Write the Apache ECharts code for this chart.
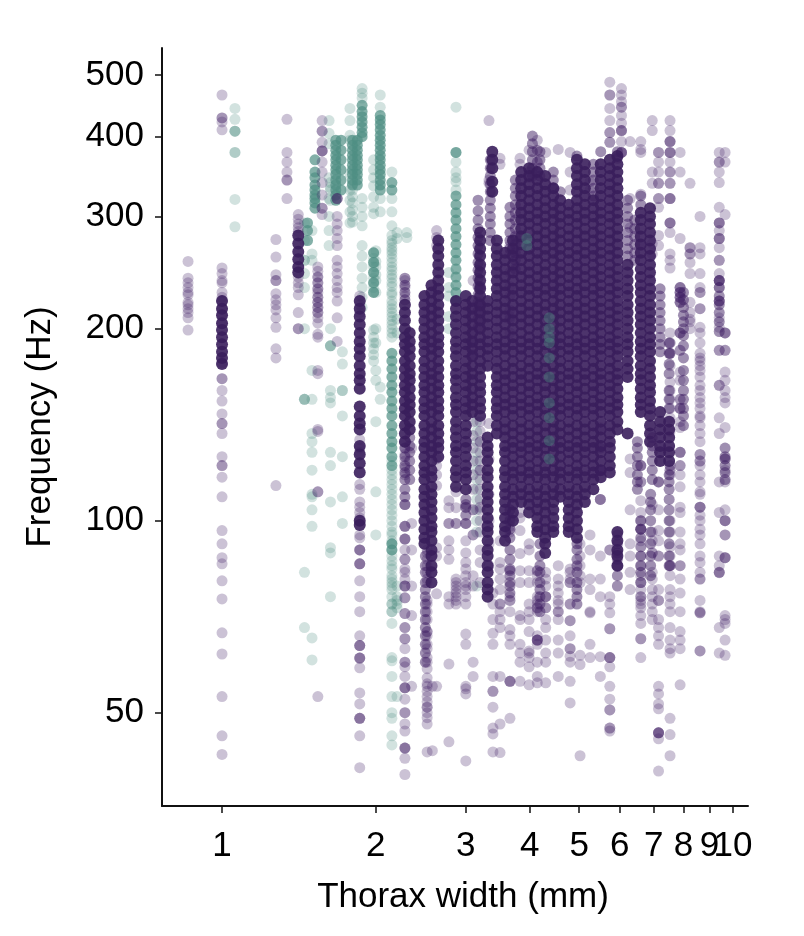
<!DOCTYPE html>
<html>
<head>
<meta charset="utf-8">
<style>
html,body{margin:0;padding:0;background:#fff;}
#chart{width:804px;height:936px;}
</style>
<script src="https://cdn.jsdelivr.net/npm/echarts@6/dist/echarts.min.js"></script>
</head>
<body>
<div id="chart"></div>
<script>
// tick labels
const xTicks = [1,2,3,4,5,6,7,8,9];
const xTickLast = [10]; // on its own axis, it touches the 9 and the overlap check would drop one
const yTicks = [50,100,200,300,400,500];

// each row: [thorax width mm, [frequencies Hz]]
// purple, single faint dots
const purpleLight = [
 [0.858,[255,240,236,232,228,226,220,218,215,212,208,199]],
 [1,[465,428,428,422,410,249,244,238,236,228,224,221,215,210,204,177,167,167,160,154,147,142,142,137,126,122,122,117,109,96.5,92,87.5,85.6,80.5,75.4,66.7,61.8,53,46,43]],
 [1.275,[276,259,243,238,238,227,222,218,214,208,201,186,180,113.5]],
 [1.34,[426,378,365,352,342,342,320]],
 [1.41,[302,297,292,288,284,241,236,232,226,212,200,200]],
 [1.54,[250,246,241,241,236,236,231,231,228,224,224,220,220,216,216,212,212,208,204,196,194,172,170,139,138,111,111,53]],
 [1.57,[424,408,408,392,380,380,380,365,352,339,324,309,309,302]],
 [1.68,[320,320,320,300,292,285,277,270,256,250,244,238,232,228,221,208,191]],
 [1.86,[225,218,212,134,130,128,114,112,107,105,103,101,95,94,90,90,90,85.6,85.6,85.6,80.5,76,72,66,63.7,63.7,63.7,60.9,60.9,60.9,58.8,53.7,51.6,49,49,49,46,41]],
 [2.28,[225,232,238,133,130,127,124,121,118,106,98,98,98,93.6,93.6,93.6,90,87,84,81,79,87,83,79,79,75.7,75.7,71.5,71.5,68,68,65.3,65.3,63,60,60,59,57,54.7,54.7,54.7,52.5,50,50,48,46.8,44,44,44,42.4,40]],
 [2.35,[130,99,90,79,71,55]],
 [2.52,[90,89,87,85,83,81,80,74,72,70,67,67,66,63,61,60,58.6,56.7,55.5,55,54,53,52,51,50,49.1,48,51,43.4,75,64]],
 [2.63,[285,278,270,125,122,118,113.5,90.7,88,76.8,55]],
 [2.58,[55,43.6]],
 [2.78,[107.5,104.8,99,99,93,90,87,76,74,59.6,45]],
 [2.87,[111,104.8,99,99,81,80,79,78,77,76,75,74]],
 [3.0,[106,106,104.8,99,99,99,93,89,86,84,82,80,79,78,76,74,66.4,64,55,54.5,53.5,42]],
 [3.1,[182,182,190,190,198,216,238,143,136,130,124,118,112,104,104,95,95,79,82,60,57]],
 [3.2,[217,217,217,233,233,233,250,143,138,133,128,124,120,116,112,108,104,100,96,133,120,105,90,86,80]],
 [3.33,[424,342,338,142,125,110,100,92,85]],
 [3.39,[77,74,70,66.6,64,57,54,54,51,46.3,43.4,47.3]],
 [3.5,[370,362,93,86,84,81,78,74,70,48,43.3,57,74,72,68]],
 [3.66,[270,262,245,233,225,214,209,207,197,104,101,98,96,83.5,83.5,80,80,76,75,75,67.5,66,64,56,56,56,49,72]],
 [3.83,[370,362,280,103,101,96.5,88.8,83.5,80,71,70,64,62,56,60]],
 [3.99,[381,352,345,92,90,83.5,80,74,70,62.5,61,59,55.3,72,62,67]],
 [4.14,[395,381,381,365,365,352,83.5,83.5,80,76,74,72,66,65,65,65,65,64,60,57,55.7,75,73,73,82]],
 [4.3,[378,83,81,79,76,76,76,73,73,65,62,55.7,60,70,68]],
 [4.55,[382,81,79,77,74,72,72,62,57,85,75,70,65]],
 [4.8,[378,352,330,84,83,81,80,80,74,74,69.7,69.7,63,63,61.3,56,51.8,66,60]],
 [5.02,[42.8,61.5,59.5,92,88,85,82,80]],
 [5.25,[340,330,95,90,81,78,71.7,64,61,72]],
 [5.5,[108,88,81,76,61.2,57,108,108,120,120,120,130,130,140]],
 [5.74,[487,465,465,443,424,406,406,392,392,90,90,76,74,71.7,67.7,67.7,61,61,61,59,55,52.5,50.5,50.5,47.3,47.3,46.8]],
 [6.05,[476,465,454,445,445,432,420,409,409,409,393,378,378,378,378]],
 [6.29,[393,320,288,125,119,104,92,88,83,78]],
 [6.6,[393,382,378,325,270,122,122,122,115,115,107.5,103,100,97,97,97,93,88,85,82,80,78,76,76,75,74,73,71,69,65.3,65.3,61]],
 [6.95,[424,409,352,338,272,262,106,96,93,89,89,83,81,78,76,74,72,70]],
 [7.15,[378,378,365,352,338,338,320,320,310,280,270,115,115,115,104,96.5,93,88,88,78,75,75,70,68,66,64,55,53.5,51.6,50.7,46.5,46.5,46.5,46.5,45.5,40.5]],
 [7.53,[424,409,393,393,393,378,378,378,365,352,352,338,338,320,320,320,293,293,293,283,262,256,249,197,190,190,183,183,183,175,165,160,155,150,145,138,122,122,120,120,118,100,96,91,88,85,85,85,82,78,76,74,72,68,65,63,62,49,46.2,42.8]],
 [7.88,[378,352,277,232,232,232,228,228,228,224,224,224,220,220,220,197,197,197,185,185,171,166,155,155,150,150,150,143,140,128,128,128,122,122,118,113,105,103,96,92,90,85,85,81,77,72,67,65,63,55.3]],
 [8.24,[338,268,268,262,262,254,244,220,212,207,205,200]],
 [8.62,[300,268,262,244,232,228,228,215,215,201,197,183,180,175,172,160,150,146,137,127,127,124,124,111,105,105,105,100,95,88,83,81,81,75,72,71.7,71.7,62.5,62.5,190,178,168,163,156,153,145,141,133,122,118,115,110,102,97,92,86]],
 [9.4,[378,365,365,352,339,310,293,293,293,285,277,277,277,268,256,256,244,238,238,238,232,221,221,221,221,208,201,185,185,163,163,145,137,115,103,88,83,83,82.9,85,68,62]],
 [9.65,[378,365,302,197,197,197,185,185,171,166,160,156,153,140,125,125,125,120,115,104,100,100,100,95,95,87.5,87.5,87.5,71,70,69,65,61.5]]
];

// purple, columns of medium tone
const purpleMid = [
 [2.28,[240,234,228,222,130,126,122,119,116,112,109,106]],
 [2.33,[135,131,128,124,120,116]],
 [2.5,[88,85,83,80,78,76,74,72,70,68,66,64,62,60]],
 [3.0,[108,105,102]],
 [3.17,[318,306,296,287,278,270,262,254,247,240,233,226,220,213,207,201]],
 [3.35,[368,357,347,337,328,318,309,300,292,283,275]],
 [3.66,[310,300,292,283,275,267,104,100,97,94,90,87,84,82,79,77]],
 [3.75,[342,332,323,313,304,296,287,279,271,263,256,248]],
 [4.05,[401,390,379,368,357,347]],
 [4.19,[379,368,357,347,92,88,85,83,80,78,76,74,72]],
 [4.45,[352,342,332]],
 [4.59,[328]],
 [4.95,[373,92,90,87,85,83,80,78,76,74]],
 [5.33,[362,352,342,332,323]],
 [5.51,[379]],
 [5.94,[379,370,95,92,89,87,85,82,79]],
 [6.22,[318,309,300,292,283,275,267,260]],
 [6.42,[296,287,279,271,263,256]],
 [6.5,[133,130,126,122,118,115,112]],
 [6.6,[323,313,100,97,94,91,88,85,83,80]],
 [6.9,[110,107,104,100,96,92,88,85,82]],
 [6.95,[135,131,128,124,120,116]],
 [7.2,[231,225,218,212,206,200,194,189,184]],
 [7.5,[190,183,176,170,160,155,150,118,115,112,108,104,100,96,92,88,85]],
 [8.0,[228,222,216,210,205,200,195,188,180,172,166,160,155,150,146,141]],
 [9.4,[238,232,225,218,212,205,198]],
 [9.65,[130,126,122,119,116]]
];

// purple, packed part of the cloud
const purpleCore = [
 [1,[221,215,210,204,199,194,189,184,180,176]],
 [1.41,[280,272,264,257,250,245]],
 [1.86,[221,215,209,203,197,191,186,181,175,170,166,161,151,146,142,139,131,127,123,119,100,98.5]],
 [2.28,[218,212,206,200,194,189,184,178,173,168,163,159,154,150,146,141,137,133]],
 [2.33,[197,191,186,181,175,170,166,161,156,152,148,143,139]],
 [2.49,[225,218,212,206,200,194,189,184,178,173,168,163,159,154,150,146,141,137,133,130,126,122,119,116,112,109,106,103,100,97,94,92]],
 [2.57,[234,228,221,215,209,203,197,191,186,181,175,170,166,161,156,152,148,143,139,135,131,128,124,120,117,113,110,107,104,101,98,96,93,90,88,85,83,80]],
 [2.65,[275,267,260,252,245,238,231,225,218,212,206,200,194,189,184,178,173,168,163,159,154,150,146,141,137,133,130,126]],
 [2.87,[221,215,209,203,197,191,186,181,175,170,166,161,156,152,148,143,139,135,131,128,124,120,117,113]],
 [3.0,[225,218,212,206,200,194,189,184,178,173,168,163,159,154,150,146,141,137,133,130,126,122,119,116,112]],
 [3.09,[221,215,209,203,197,191,186,181,175,170,166,161,156,152,148]],
 [3.2,[283,275,267,260,252,245,238,231,225,218,212,206,200,194,189,184,178,173,168,163,159,154,150,146]],
 [3.31,[221,215,209,203,197,191,186,181,175,135,131,128,124,120,117,113,110,107,104,101,98,96,93,90,88,85,83,80,78,76]],
 [3.38,[379,368,357,340,328]],
 [3.45,[275,267,260,252,245,238,231,225,218,212,206,200,194,189,184,178,173,168,163,159,154,150,146,141,137]],
 [3.58,[263,256,248,241,234,228,221,215,209,203,197,191,186,181,175,170,166,161,156,152,148,143,139,135,131,128,124,120,117,113,110,107,104,101,98,96,93]],
 [3.71,[275,267,260,252,245,238,231,225,218,212,206,200,194,189,184,178,173,168,163,159,154,150,146,141,137,133,130,126,122,119,116,112,109,106,103,100]],
 [3.85,[352,342,332,323,313,304,296,287,279,271,263,256,248,241,234,228,221,215,209,203,197,191,186,181,175,170,166,161,156,152,148,143,139,135,131,128,124,120,117,113,110,107]],
 [3.99,[357,347,337,328,318,309,300,292,283,275,267,260,252,245,238,231,225,218,212,206,200,194,189,184,178,173,168,163,159,154,150,146,141,137,133,130,126,122,119,116,112,109,106,103]],
 [4.14,[352,342,332,323,313,304,296,287,279,271,263,256,248,241,234,228,221,215,209,203,197,191,186,181,175,170,166,161,156,152,148,143,139,135,131,128,124,120,117,113,110,107,104,101,98,96]],
 [4.29,[347,337,328,318,309,300,292,283,275,267,260,252,245,238,231,225,218,212,206,200,194,189,184,178,173,168,163,159,154,150,146,141,137,133,130,126,122,119,116,112,109,106,103,100,97,94,92,89]],
 [4.45,[332,323,313,304,296,287,279,271,263,256,248,241,234,228,221,215,209,203,197,191,186,181,175,170,166,161,156,152,148,143,139,135,131,128,124,120,117,113,110,107,104,101,98,96]],
 [4.59,[318,309,300,292,283,275,267,260,252,245,238,231,225,218,212,206,200,194,189,184,178,173,168,163,159,154,150,146,141,137,133,130,126,122,119,116,112,109]],
 [4.77,[313,304,296,287,279,271,263,256,248,241,234,228,221,215,209,203,197,191,186,181,175,170,166,161,156,152,148,143,139,135,131,128,124,120,117,113,110,107,104,101,98,96]],
 [4.95,[368,357,347,337,328,318,309,300,292,283,275,267,260,252,245,238,231,225,218,212,206,200,194,189,184,178,173,168,163,159,154,150,146,141,137,133,130,126,122,119,116,112,109,106,103,100,97,94]],
 [5.13,[362,352,342,332,323,313,304,296,287,279,271,263,256,248,241,234,228,221,215,209,203,197,191,186,181,175,170,166,161,156,152,148,143,139,135,131,128,124,120,117,113,110,107]],
 [5.33,[318,309,300,292,283,275,267,260,252,245,238,231,225,218,212,206,200,194,189,184,178,173,168,163,159,154,150,146,141,137,133,130,126,122,119,116,112]],
 [5.51,[362,352,342,332,323,313,304,296,287,279,271,263,256,248,241,234,228,221,215,209,203,197,191,186,181,175,170,166,161,156,152,148,143,139,135,131,128,124,120,117]],
 [5.74,[368,357,347,337,328,318,309,300,292,283,275,267,260,252,245,238,231,225,218,212,206,200,194,189,184,178,173,168,163,159,154,150,146,141,137,133,130,126,122,119]],
 [5.94,[373,362,352,342,332,323,313,304,296,287,279,271,263,256,248,241,234,228,221,215,209,203,197,191,186,181,175,170,166,161,156,152,148,143,139,96,93,90,88,85]],
 [6.22,[252,245,238,231,225,218,212,206,200,194,189,184,178,173,168,137]],
 [6.6,[304,296,287,279,271,263,256,248,241,234,228,221,215,209,203,197,191,186,181,175,170,166,161,156,152,148]],
 [6.88,[309,300,292,283,275,267,260,252,245,238,231,225,218,212,206,200,194,189,184,178,173,168,163,159,154,150,146,141,137,133]],
 [7.2,[148,143,139,135,131,128,124]],
 [7.5,[143,139,135,131,128,124]]
];

// teal, faint dots
const tealLight = [
 [1.06,[443,426,408,408,408,378,378,319,289]],
 [1.45,[293,275,256,256,244,232,200,155,155,155,83,68]],
 [1.5,[285,262,256,128,120,110,109,65.5,60.5,104,98,172,155,137,133]],
 [1.63,[339,330,318,333,200,160,153,156,128,122,107,90.7,89,76,188,188,188]],
 [1.72,[184,176,160,146,126,109,99,160]],
 [1.62,[424,405,390,345,320,300,285,270]],
 [1.78,[443,424,402,395,350,330,318,305,293]],
 [1.8,[338,330,322,315,307,300,294]],
 [1.88,[476,468,460,320,310,300,290,270,260,250,240,232,224,216]],
 [1.98,[368,355,345,335,322,310,303,263,258,254,250,245,240,236,232,228,199,194,190,186,182,178]],
 [2.0,[265,255,250,243,238,228,200,190,172,166,143,111,95]],
 [2.04,[465,445,320,305,162,155]],
 [2.15,[352,320,305,290,280,272,265,258,250,243,236,228,221,215,209,203,197,124,120,116,112,108,104,100,96,93,90,86.5,84,81,79,76,74,72,69,60.3,61,57,53,50,49,46,44.5,74,72,80,78,275,268,262,254,247,240,233,226,218,212,206,200,194,118,114,110,106,102,98,95,92,88,85,82]],
 [2.2,[79,76,73,283,277,207,197,53,75,74]],
 [2.3,[278,283]],
 [2.87,[445,378,365,352,345,340,330]],
 [2.78,[245,232,225,209,200]],
 [3.15,[143,138,133,128,124,120,116,112,108,104,100,96,79]]
];

// teal, packed columns
const tealCore = [
 [1.47,[293,285,275]],
 [1.52,[368,352,345,336,330,324,320,315,309]],
 [1.67,[395,388,381,374,368,361,355,349,342,336,330,324,318]],
 [1.71,[395,381,368,355,342,330]],
 [1.8,[395,388,381,374,368,361,355,349,342,336]],
 [1.84,[395,388,381,374,368,361,355,349,342,336]],
 [1.88,[448,438,430,422,414,406,400]],
 [1.98,[263,254,245,236,228]],
 [2.04,[432,425,418,410,402,395,388,381,374,368,361,355,349,342,336,330]],
 [2.15,[339,330,183,178,173,168,163,159,154,150,146,141,137,133,130,126,122,92,90]],
 [2.87,[378,323,313,304,296,287,279,271,263,256,248,241,234,228,221]]
];

// teal dots showing through the dark part of the cloud
const tealOverlay = [
 [3.95,[277,270]],
 [4.37,[208,200,194,190,180,168,153,145,133.5,125]]
];

function flatten(rows){
    let out = [];
    rows.forEach(row=>{
        row[1].forEach(f=>{ out.push([row[0],f]); });
    });
    return out;
}

function scatter(rows,color,alpha,size){
    return {
        type:'scatter',
        data:flatten(rows),
        symbolSize:size,
        silent:true,
        itemStyle:{color:color,opacity:alpha,borderWidth:0}
    };
}

let chart = echarts.init(document.getElementById('chart'),null,{renderer:'canvas'});
let axisFont = 'Liberation Sans, Arial, sans-serif';
let xLabelStyle = {fontFamily:axisFont,fontSize:35,color:'#000',margin:23,hideOverlap:false};
let option = {
    animation:false,
    backgroundColor:'#fff',
    grid:{left:162,right:56,top:48,bottom:130},
    xAxis:[{
        type:'log',
        min:0.763,
        max:10.7,
        name:'Thorax width (mm)',
        nameLocation:'middle',
        nameGap:74,
        nameTextStyle:{fontFamily:axisFont,fontSize:35,color:'#000',padding:[0,0,0,16]},
        axisLine:{show:true,onZero:false,lineStyle:{color:'#111',width:2}},
        axisTick:{show:true,length:7,lineStyle:{color:'#111',width:1.5},customValues:xTicks},
        minorTick:{show:false},
        splitLine:{show:false},
        axisLabel:Object.assign({customValues:xTicks},xLabelStyle)
    },{
        type:'log',
        position:'bottom',
        min:0.763,
        max:10.7,
        axisLine:{show:false,onZero:false},
        axisTick:{show:true,length:7,lineStyle:{color:'#111',width:1.5},customValues:xTickLast},
        minorTick:{show:false},
        splitLine:{show:false},
        axisLabel:Object.assign({customValues:xTickLast},xLabelStyle)
    }],
    yAxis:{
        type:'log',
        min:35.7,
        max:551,
        name:'Frequency (Hz)',
        nameLocation:'middle',
        nameGap:104,
        nameTextStyle:{fontFamily:axisFont,fontSize:35,color:'#000'},
        axisLine:{show:true,onZero:false,lineStyle:{color:'#111',width:2}},
        axisTick:{show:true,length:7,lineStyle:{color:'#111',width:1.5},customValues:yTicks},
        minorTick:{show:false},
        splitLine:{show:false},
        axisLabel:{fontFamily:axisFont,fontSize:35,color:'#000',margin:18,hideOverlap:false,customValues:yTicks}
    },
    series:[
        scatter(tealLight,'#4c8c80',0.25,11),
        scatter(tealCore,'#4f8f83',0.7,11),
        scatter(purpleLight,'#3f1f63',0.27,11),
        scatter(purpleMid,'#3f1f63',0.5,11),
        scatter(purpleCore,'#3a1e5c',0.9,12),
        scatter(tealOverlay,'#4c8c80',0.4,11)
    ]
};
chart.setOption(option);
</script>
</body>
</html>
